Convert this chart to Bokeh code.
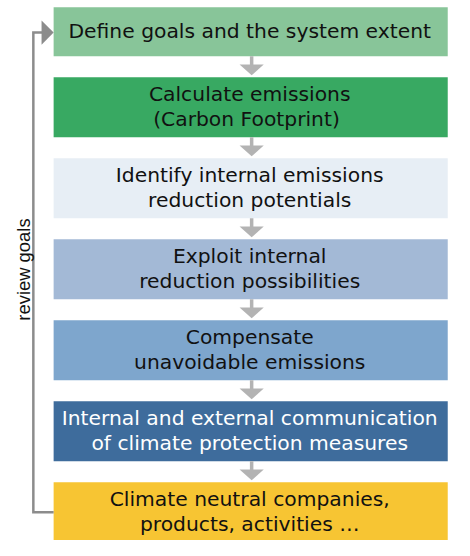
from bokeh.plotting import figure
from bokeh.models import Range1d, ColumnDataSource
from bokeh.core.properties import value
from bokeh.embed import file_html
from bokeh.resources import INLINE

# ---- data ----
steps = [
    "Define goals and the system extent",
    "Calculate emissions\n (Carbon Footprint)",
    "Identify internal emissions\nreduction potentials",
    "Exploit internal\nreduction possibilities",
    "Compensate\nunavoidable emissions",
    "Internal and external communication\nof climate protection measures",
    "Climate neutral companies,\nproducts, activities \u2026",
]
box_colors = ["#88c599", "#38a962", "#e7eef5", "#a3b9d6", "#7ea6cd", "#3e6c9c", "#f7c533"]
text_colors = ["#111111", "#111111", "#111111", "#111111", "#111111", "#ffffff", "#111111"]
feedback_label = "review goals"

# ---- layout (reference-pixel coordinate system) ----
BOX_L, BOX_R = 55, 463
TOP0 = 7
GAP = 21.5
H1, H2 = 50.5, 61.9
ARROW_X = 260

tops, bottoms = [], []
y = TOP0
for s in steps:
    h = H1 if "\n" not in s else H2
    tops.append(y)
    bottoms.append(y + h)
    y += h + GAP
centers_y = [(t + b) / 2 - 1 for t, b in zip(tops, bottoms)]

p = figure(width=454, height=540, x_range=Range1d(0, 470), y_range=Range1d(556, 0),
           output_backend="svg", toolbar_location=None, min_border=0,
           min_border_left=0, min_border_right=0, min_border_top=0, min_border_bottom=0)
p.axis.visible = False
p.grid.visible = False
p.outline_line_color = None
p.background_fill_color = "white"
p.border_fill_color = "white"

src = ColumnDataSource(dict(
    left=[BOX_L] * len(steps), right=[BOX_R] * len(steps),
    top=tops, bottom=bottoms, color=box_colors,
    x=[(BOX_L + BOX_R) / 2 - 1] * len(steps), y=centers_y,
    text=steps, tcolor=text_colors,
))
p.quad(left="left", right="right", top="top", bottom="bottom", fill_color="color",
       line_color=None, source=src)
p.text(x="x", y="y", text="text", text_color="tcolor", source=src,
       text_font=value("DejaVu Sans"), text_font_size="20.3px",
       text_align="center", text_baseline="middle", text_line_height=1.05)

# down arrows between steps
arrow_gray = "#b3b3b3"
for i in range(len(steps) - 1):
    y0 = bottoms[i]
    y1 = tops[i + 1]
    head_h = 11
    tip = y1 - 2
    base = tip - head_h
    p.line([ARROW_X, ARROW_X], [y0, base + 1], line_color=arrow_gray, line_width=3.5)
    p.patch([ARROW_X - 12.5, ARROW_X + 12.5, ARROW_X], [base, base, tip],
            fill_color=arrow_gray, line_color=None)

# feedback loop
loop_gray = "#8c8c8c"
LOOP_X = 34
top_y = 33
bot_y = tops[-1] + 31
p.line([BOX_L, LOOP_X, LOOP_X, 43], [bot_y, bot_y, top_y, top_y],
       line_color=loop_gray, line_width=2.5, line_join="miter")
p.patch([42.5, 42.5, BOX_L], [top_y - 12.5, top_y + 12.5, top_y],
        fill_color=loop_gray, line_color=None)
p.text(x=[24], y=[277], text=[feedback_label], angle=1.5708,
       text_font=value("Liberation Sans"), text_font_size="18.4px",
       text_color="#111111", text_align="center", text_baseline="middle")

open("out.html", "w").write(file_html(p, INLINE))
